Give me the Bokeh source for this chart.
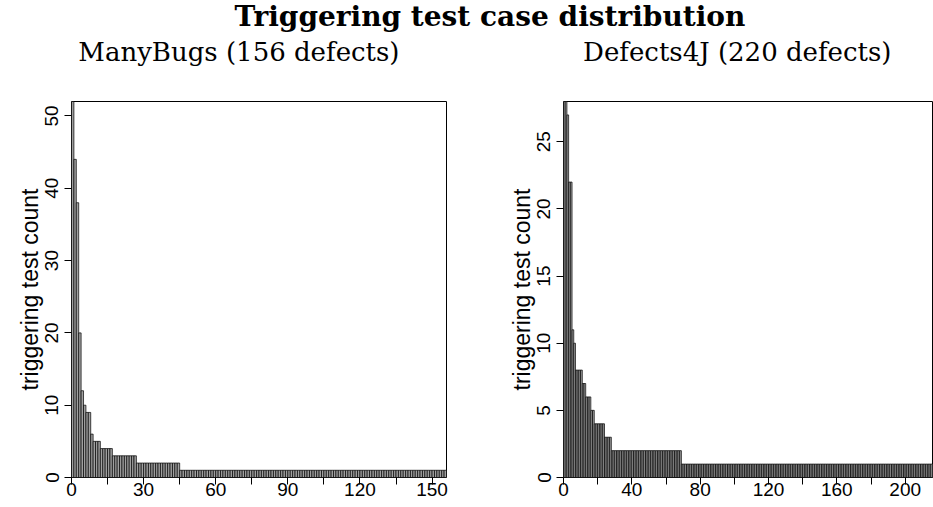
import numpy as np
from bokeh.plotting import figure
from bokeh.models import Range1d, FixedTicker, ColumnDataSource
from bokeh.layouts import column, row
from bokeh.embed import file_html
from bokeh.resources import INLINE
from bokeh.core.properties import value

# ---- text ----
main_title = "Triggering test case distribution"
left_title = "ManyBugs (156 defects)"
right_title = "Defects4J (220 defects)"
y_label = "triggering test count"

# ---- data (sorted triggering-test counts, as runs of equal values) ----
manybugs_levels = [52, 44, 38, 20, 12, 10, 9, 6, 5, 4, 3, 2, 1]
manybugs_runs = [1, 1, 1, 1, 1, 1, 2, 1, 3, 5, 10, 18, 111]
defects4j_levels = [28, 27, 22, 11, 10, 8, 7, 6, 5, 4, 3, 2, 1]
defects4j_runs = [2, 1, 2, 1, 1, 4, 2, 3, 2, 6, 4, 41, 151]

# ---- tick labels ----
left_x_major = [0, 30, 60, 90, 120, 150]
left_x_minor = [15, 45, 75, 105, 135]
left_y_ticks = [0, 10, 20, 30, 40, 50]
right_x_major = [0, 40, 80, 120, 160, 200]
right_x_minor = [20, 60, 100, 140, 180]
right_y_ticks = [0, 5, 10, 15, 20, 25]

manybugs = np.repeat(manybugs_levels, manybugs_runs)
defects4j = np.repeat(defects4j_levels, defects4j_runs)

PAGE_W, PAGE_H = 933, 507
HEADER_H = 85
ROW_H = PAGE_H - HEADER_H
TICK_FONT = "19px"
SANS = "Liberation Sans"
SERIF = "DejaVu Serif"


def make_panel(counts, x_end, y_end, xmaj, xmin, yticks, width, mbl, mbr):
    p = figure(width=width, height=ROW_H, title=None,
               x_range=Range1d(0, x_end), y_range=Range1d(0, y_end),
               output_backend="svg", toolbar_location=None,
               min_border_left=mbl, min_border_right=mbr,
               min_border_top=101 - HEADER_H, min_border_bottom=30)
    p.grid.visible = False
    p.outline_line_color = "black"
    p.outline_line_alpha = 1.0
    p.outline_line_width = 1
    p.background_fill_color = "white"
    p.border_fill_color = "white"

    src = ColumnDataSource(dict(x=np.arange(len(counts)) + 0.5, top=counts))
    p.vbar(x="x", top="top", bottom=0, width=1, source=src,
           fill_color="#a0a0a0", line_color="black", line_width=0.7)

    p.xaxis.ticker = FixedTicker(ticks=xmaj, minor_ticks=xmin)
    p.yaxis.ticker = FixedTicker(ticks=yticks, minor_ticks=[])
    for ax in (p.xaxis[0], p.yaxis[0]):
        ax.axis_line_color = None
        ax.major_tick_in = 0
        ax.major_tick_out = 7
        ax.minor_tick_in = 0
        ax.minor_tick_out = 7
        ax.major_tick_line_color = "black"
        ax.minor_tick_line_color = "black"
        ax.major_label_text_font = SANS
        ax.major_label_text_font_size = TICK_FONT
        ax.major_label_text_color = "black"
    p.xaxis.major_label_standoff = -2
    p.yaxis.major_label_orientation = "vertical"
    p.yaxis.major_label_standoff = 6
    p.yaxis.axis_label = y_label
    p.yaxis.axis_label_text_font = SANS
    p.yaxis.axis_label_text_font_size = "23px"
    p.yaxis.axis_label_text_font_style = "normal"
    p.yaxis.axis_label_text_color = "black"
    p.yaxis.axis_label_standoff = 0
    return p


p1 = make_panel(manybugs, 156, 52, left_x_major, left_x_minor, left_y_ticks,
                498, 71, 52)
p2 = make_panel(defects4j, 216, 28, right_x_major, right_x_minor, right_y_ticks,
                PAGE_W - 498, 65, 1)

# ---- header with the titles ----
h = figure(width=PAGE_W, height=HEADER_H, title=None, x_range=Range1d(0, PAGE_W),
           y_range=Range1d(HEADER_H, 0), output_backend="svg",
           toolbar_location=None, min_border=0,
           x_axis_location=None, y_axis_location=None)
h.grid.visible = False
h.outline_line_color = None
h.text(x=[489.5], y=[16], text=[main_title], text_font=value(SERIF),
       text_font_style="bold", text_font_size="28px", text_align="center",
       text_baseline="alphabetic", text_color="black")
h.text(x=[238.4, 736.8], y=[51, 51], text=[left_title, right_title],
       text_font=value(SERIF), text_font_size="26px", text_align="center",
       text_baseline="alphabetic", text_color="black")

layout = column(h, row(p1, p2))
open("out.html", "w").write(file_html(layout, INLINE))
